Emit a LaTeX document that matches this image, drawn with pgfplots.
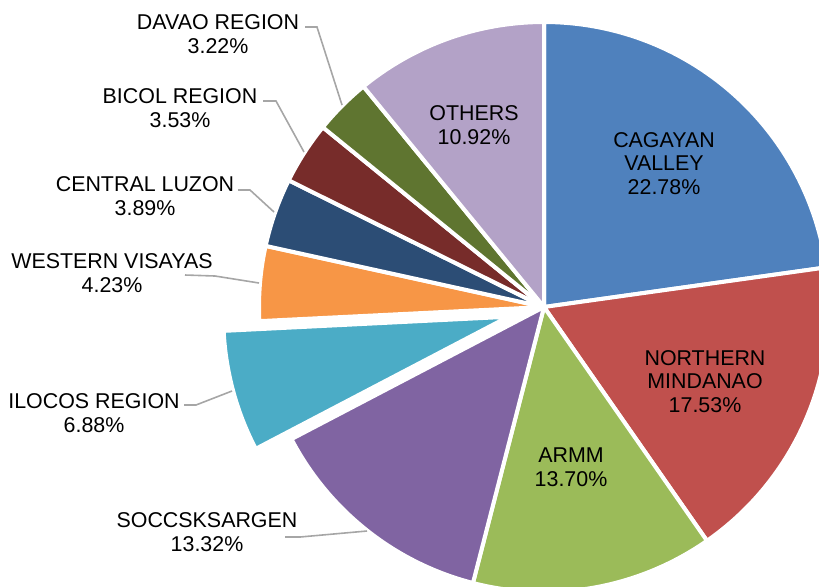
\documentclass[border=0pt]{standalone}
\usepackage{pgfplots}
\pgfplotsset{compat=1.18}
\usepackage{fontspec}
\setmainfont{Liberation Sans}
\definecolor{cCag}{HTML}{4F81BD}
\definecolor{cNM}{HTML}{C0504D}
\definecolor{cARMM}{HTML}{9BBB59}
\definecolor{cSOC}{HTML}{8064A2}
\definecolor{cILO}{HTML}{4BACC6}
\definecolor{cWV}{HTML}{F79646}
\definecolor{cCL}{HTML}{2C4D75}
\definecolor{cBIC}{HTML}{772C2A}
\definecolor{cDAV}{HTML}{5F7530}
\definecolor{cOTH}{HTML}{B3A2C7}
\definecolor{leadergray}{HTML}{A6A6A6}
\newcommand\cx{544}
\newcommand\cy{307}
\newcommand\R{285}
\newcommand\lf{\fontsize{10.7}{12}\selectfont}
\begin{document}
\begin{tikzpicture}
\begin{axis}[name=ax, width=409.5pt, height=293pt, scale only axis,
  xmin=0, xmax=819, ymin=0, ymax=586, y dir=reverse, hide axis, clip=true]
\xdef\cum{0}
% value / colour / explosion (px)
\foreach \v/\col/\ex in {22.78/cCag/0, 17.53/cNM/0, 13.70/cARMM/0, 13.32/cSOC/0, 6.88/cILO/37, 4.23/cWV/0, 3.89/cCL/0, 3.53/cBIC/0, 3.22/cDAV/0, 10.92/cOTH/0}{
  \pgfmathsetmacro\aS{90-3.6*\cum}
  \pgfmathsetmacro\aE{90-3.6*(\cum+\v)}
  \pgfmathsetmacro\aM{(\aS+\aE)/2}
  \pgfmathsetmacro\ox{\cx+\ex*cos(\aM)}
  \pgfmathsetmacro\oy{\cy-\ex*sin(\aM)}
  \edef\temp{\noexpand\addplot[fill=\col, draw=white, line width=2pt, line join=round, domain=\aE:\aS, samples=80, variable=\noexpand\t] ({\ox+\R*cos(\noexpand\t)}, {\oy-\R*sin(\noexpand\t)}) -- (axis cs:\ox,\oy) -- cycle;}
  \temp
  \pgfmathsetmacro\newcum{\cum+\v}
  \xdef\cum{\newcum}
}
% leader lines
\draw[leadergray, line width=0.8pt] (axis cs:305,27) -- (axis cs:317,27) -- (axis cs:342,105);
\draw[leadergray, line width=0.8pt] (axis cs:263,101) -- (axis cs:276,101) -- (axis cs:304,152);
\draw[leadergray, line width=0.8pt] (axis cs:238,190) -- (axis cs:250,190) -- (axis cs:274,212);
\draw[leadergray, line width=0.8pt] (axis cs:185,275) -- (axis cs:215,276) -- (axis cs:259,283);
\draw[leadergray, line width=0.8pt] (axis cs:184,405) -- (axis cs:196,405) -- (axis cs:232,391);
\draw[leadergray, line width=0.8pt] (axis cs:285,537) -- (axis cs:300,537) -- (axis cs:367,531);
% labels
\tikzset{lb/.style={anchor=base, inner sep=0pt, font=\lf}}
\node[lb] at (axis cs:218,29) {DAVAO REGION};
\node[lb] at (axis cs:218,53) {3.22\%};
\node[lb] at (axis cs:180,103) {BICOL REGION};
\node[lb] at (axis cs:180,127) {3.53\%};
\node[lb] at (axis cs:145,191) {CENTRAL LUZON};
\node[lb] at (axis cs:145,215) {3.89\%};
\node[lb] at (axis cs:112,268) {WESTERN VISAYAS};
\node[lb] at (axis cs:112,292) {4.23\%};
\node[lb] at (axis cs:94,408) {ILOCOS REGION};
\node[lb] at (axis cs:94,432) {6.88\%};
\node[lb] at (axis cs:207,527) {SOCCSKSARGEN};
\node[lb] at (axis cs:207,551) {13.32\%};
\node[lb] at (axis cs:474,120) {OTHERS};
\node[lb] at (axis cs:474,144) {10.92\%};
\node[lb] at (axis cs:664,147) {CAGAYAN};
\node[lb] at (axis cs:664,170.5) {VALLEY};
\node[lb] at (axis cs:664,194) {22.78\%};
\node[lb] at (axis cs:705,365) {NORTHERN};
\node[lb] at (axis cs:705,388.5) {MINDANAO};
\node[lb] at (axis cs:705,412) {17.53\%};
\node[lb] at (axis cs:571,462) {ARMM};
\node[lb] at (axis cs:571,486) {13.70\%};
\end{axis}
\pgfresetboundingbox
\path[use as bounding box] (ax.south west) rectangle (ax.north east);
\end{tikzpicture}
\end{document}
